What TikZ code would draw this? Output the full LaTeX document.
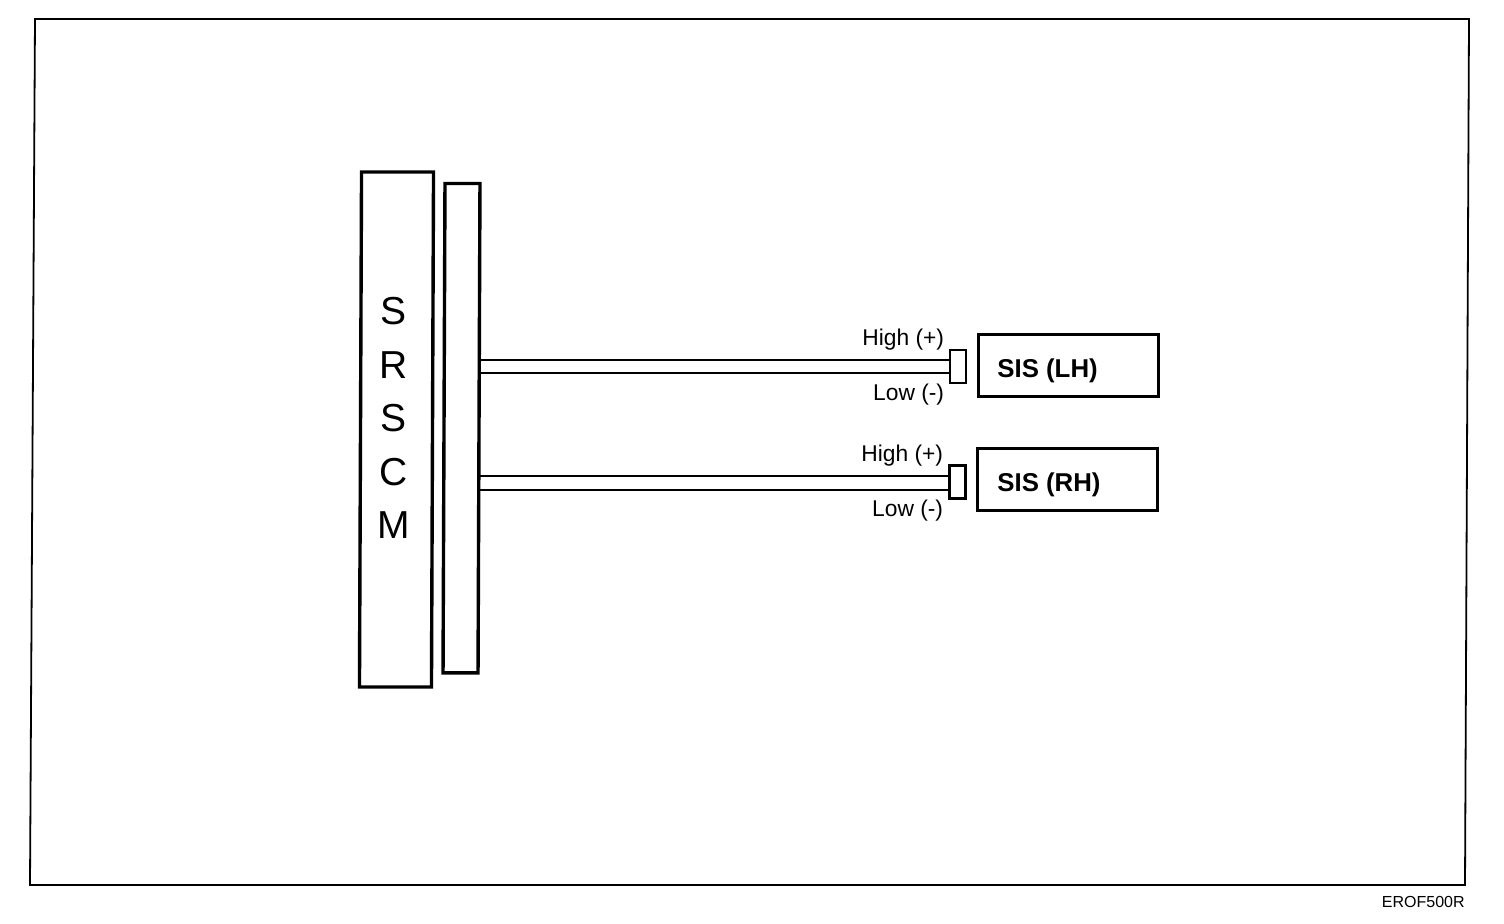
\documentclass[tikz,border=0pt]{standalone}
\usepackage{fontspec}
\setmainfont{Liberation Sans}
\tikzset{
  heavybox/.style={draw,rectangle,inner sep=0pt,line width=1.7pt},
  plug/.style={draw,rectangle,inner sep=0pt,line width=1.1pt,minimum width=8pt,minimum height=16.5pt},
  sensor/.style={heavybox,line width=1.5pt,minimum width=90pt,minimum height=31pt},
  wire/.style={line width=1pt},
  pin/.style={inner sep=0pt,anchor=base east,font=\fontsize{11.4pt}{13pt}\selectfont},
  sislabel/.style={inner sep=0pt,anchor=base west,font=\fontsize{12.9pt}{15pt}\selectfont\bfseries}
}
\begin{document}
\begin{tikzpicture}[x=0.5pt,y=-0.5pt]
    \useasboundingbox (0,0) rectangle (1504,924);

    % outer frame
    \coordinate (frame-a) at (35,19);
    \coordinate (frame-b) at (1469,19);
    \coordinate (frame-c) at (1465,885);
    \coordinate (frame-d) at (30,885);
    \draw[line width=0.9pt] (frame-a) -- (frame-b) -- (frame-c) -- (frame-d) -- cycle;

    \node[heavybox, xslant=0.004, transform shape, minimum width=36pt, minimum height=257.5pt]
      (srscm) at (396.5,429.5) {};
    \node[align=center, inner sep=0pt, font=\fontsize{19.5pt}{26.8pt}\selectfont]
      (srscm-text) at (394,418) {S\\R\\S\\C\\M};
    \node[heavybox, xslant=0.004, transform shape, minimum width=17.5pt, minimum height=244.7pt]
      (bus) at (461.5,428.2) {};

    \node[plug](plug-lh) at (958,366.5){};
    \node[plug](plug-rh) at (957.5,482){};
    \node[sensor](sis-lh) at (1068,366){};
    \node[sensor](sis-rh) at (1067,480){};
    \node[sislabel](sis-lh-text) at (997,378) {SIS (LH)};
    \node[sislabel](sis-rh-text) at (997,492) {SIS (RH)};

    \node[pin](high-lh) at (944.5,346) {High (+)};
    \node[pin](low-lh) at (944.5,401) {Low (-)};
    \node[pin](high-rh) at (943.5,462) {High (+)};
    \node[pin](low-rh) at (943.5,517) {Low (-)};

    \coordinate (bus-a) at (480,360);
    \coordinate (bus-b) at (480,373.5);
    \coordinate (bus-c) at (479,476);
    \coordinate (bus-d) at (479,490);

    \draw[wire] (bus-a) -- (bus-a -| plug-lh.west);
    \draw[wire] (bus-b) -- (bus-b -| plug-lh.west);
    \draw[wire] (bus-c) -- (bus-c -| plug-rh.west);
    \draw[wire] (bus-d) -- (bus-d -| plug-rh.west);

    \node[anchor=base east, inner sep=0pt, font=\fontsize{8pt}{10pt}\selectfont]
      (code) at (1465,907) {EROF500R};
\end{tikzpicture}
\end{document}
